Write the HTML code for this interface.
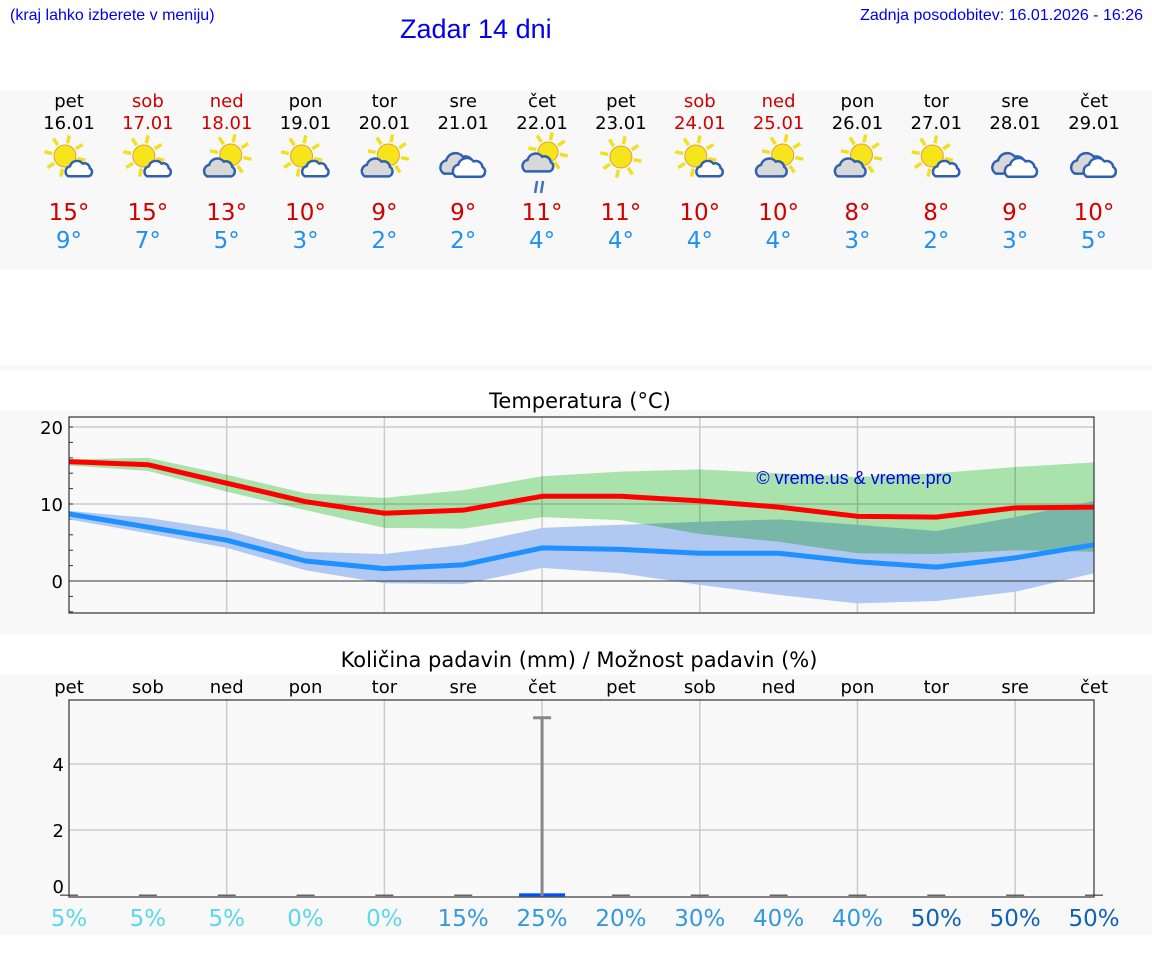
<!DOCTYPE html>
<html><head><meta charset="utf-8">
<style>
body{margin:0;width:1152px;height:975px;background:#fff;position:relative;overflow:hidden;font-family:"DejaVu Sans","Liberation Sans",sans-serif;}
.abs{position:absolute}
</style></head>
<body>
<div class="abs" style="left:10px;top:7px;font:16px 'Liberation Sans',sans-serif;color:#0000ee">(kraj lahko izberete v meniju)</div>
<div class="abs" style="left:400px;top:14px;font:27px 'Liberation Sans',sans-serif;color:#0000ee">Zadar 14 dni</div>
<div class="abs" style="right:9px;top:7px;font:16px 'Liberation Sans',sans-serif;color:#0000ee">Zadnja posodobitev: 16.01.2026 - 16:26</div>
<div class="abs" style="left:0;top:90px;width:1152px;height:180px;background:#f8f8f8"></div>
<div class="abs" style="left:0;top:365px;width:1152px;height:5px;background:#f8f8f8"></div>
<div class="abs" style="left:0;top:410px;width:1152px;height:224px;background:#f8f8f8"></div>
<div class="abs" style="left:0;top:675px;width:1152px;height:260px;background:#f8f8f8"></div>
<svg id="svg" class="abs" style="left:0;top:0" width="1152" height="975"></svg>
<script>
const dayNames=["pet","sob","ned","pon","tor","sre","čet","pet","sob","ned","pon","tor","sre","čet"];
const dates=["16.01","17.01","18.01","19.01","20.01","21.01","22.01","23.01","24.01","25.01","26.01","27.01","28.01","29.01"];
const weekend=[0,1,1,0,0,0,0,0,1,1,0,0,0,0];
const icons=["sc","sc","cs","sc","cs","cc","rain","sun","sc","cs","cs","sc","cc","cc"];
const maxT=[15,15,13,10,9,9,11,11,10,10,8,8,9,10];
const minT=[9,7,5,3,2,2,4,4,4,4,3,2,3,5];
const maxLine=[15.5,15.1,12.7,10.3,8.8,9.2,11,11,10.4,9.6,8.4,8.3,9.5,9.6];
const maxHi=[15.8,16,13.8,11.4,10.8,11.8,13.6,14.2,14.5,14,13.5,14,14.8,15.4];
const maxLo=[15,14.3,11.6,9.2,6.9,6.8,8.3,7.9,6.1,5.1,3.6,3.5,4,3.8];
const minLine=[8.7,7,5.3,2.6,1.6,2.1,4.3,4.1,3.6,3.6,2.5,1.8,3,4.7];
const minHi=[9.1,8.2,6.6,3.8,3.5,4.7,6.9,7.3,7.7,8,7.3,6.5,8.3,10.4];
const minLo=[8,6.2,4.3,1.4,-0.3,-0.4,1.7,1,-0.5,-1.8,-2.9,-2.6,-1.4,1];
const precip=[0,0,0,0,0,0,0.02,0,0,0,0,0,0,0];
const precipErr=[0,0,0,0,0,0,5.4,0,0,0,0,0,0,0];
const chance=[5,5,5,0,0,15,25,20,30,40,40,50,50,50];
const tTicks=[0,10,20];
const pTicks=[0,2,4];

const NS="http://www.w3.org/2000/svg";
const svg=document.getElementById('svg');
function el(tag,attrs,parent,text){const e=document.createElementNS(NS,tag);for(const k in attrs)e.setAttribute(k,attrs[k]);if(text!==undefined)e.textContent=text;(parent||svg).appendChild(e);return e;}
const X0=69,X1=1094;
const xd=i=>X0+i*(X1-X0)/13;
const yT=v=>581-v*7.7;
const yP=v=>896-v*33;

function sun(g,cx,cy,r){
  for(let k=0;k<8;k++){const a=k*Math.PI/4+0.2;el('line',{x1:cx+Math.cos(a)*(r+2),y1:cy+Math.sin(a)*(r+2),x2:cx+Math.cos(a)*(r+10),y2:cy+Math.sin(a)*(r+10),stroke:'#f0e020','stroke-width':3.5},g);}
  el('circle',{cx:cx,cy:cy,r:r,fill:'#f5e51a',stroke:'#e8a030','stroke-width':1},g);
}
function cloud(g,cx,cy,s,fill){
  el('path',{d:`M${cx-12*s},${cy+8*s} a${6*s},${6*s} 0 0 1 ${2*s},${-11*s} a${8*s},${8*s} 0 0 1 ${14*s},${-3*s} a${6*s},${6*s} 0 0 1 ${8*s},${5*s} a${5*s},${5*s} 0 0 1 ${-1*s},${9*s} z`,fill:fill,stroke:'#3060b0','stroke-width':2.5},g);
}
for(let i=0;i<14;i++){
  const x=xd(i);
  const c=weekend[i]?'#d00000':'#000';
  const t1=el('text',{x:x,y:107,'text-anchor':'middle','font-size':18,fill:c},svg,dayNames[i]);
  
  const t2=el('text',{x:x,y:129,'text-anchor':'middle','font-size':18,fill:c},svg,dates[i]);
  
  const g=el('g',{});
  
  const ic=icons[i];
  if(ic==='sc'){sun(g,x-4,156,11);cloud(g,x+10,169,0.9,'#fff');}
  else if(ic==='cs'){sun(g,x+4,155,11);cloud(g,x-7,168,1.05,'#d8d8d8');}
  else if(ic==='sun'){sun(g,x,157,11);}
  else if(ic==='cc'){cloud(g,x-5,164,1.2,'#d8d8d8');cloud(g,x+6,168,1.1,'#fff');}
  else if(ic==='rain'){sun(g,x+6,152,10);cloud(g,x-4,163,1.05,'#d8d8d8');el('line',{x1:x-5,y1:181,x2:x-7,y2:193,stroke:'#4070c0','stroke-width':2.5},g);el('line',{x1:x+1,y1:181,x2:x-1,y2:193,stroke:'#4070c0','stroke-width':2.5},g);}
  const t3=el('text',{x:x,y:220,'text-anchor':'middle','font-size':23,fill:'#d00000'},svg,maxT[i]+'°');
  
  const t4=el('text',{x:x,y:248,'text-anchor':'middle','font-size':23,fill:'#2090f0'},svg,minT[i]+'°');
  
}

// temperature chart
const tt=el('text',{x:580,y:408,'text-anchor':'middle','font-size':21,fill:'#000'},svg,'Temperatura (°C)');

el('rect',{x:X0,y:417,width:X1-X0,height:196,fill:'#f9f9f9'});
for(let i=2;i<13;i+=2){const l=el('line',{x1:xd(i),y1:417,x2:xd(i),y2:613,stroke:'#ccc','stroke-width':1.5});}
tTicks.forEach(v=>{if(v!==0)el('line',{x1:X0,y1:yT(v),x2:X1,y2:yT(v),stroke:'#ccc','stroke-width':1.5});
 const t=el('text',{x:63,y:yT(v)+7,'text-anchor':'end','font-size':18,fill:'#000'},svg,v);});
for(let v=-4;v<=20;v+=2){el('line',{x1:X0,y1:yT(v),x2:X0+4,y2:yT(v),stroke:'#333','stroke-width':1});}
function band(hi,lo,fill,name,blend){let d='';hi.forEach((v,i)=>d+=(i?'L':'M')+xd(i)+','+yT(v));for(let i=lo.length-1;i>=0;i--)d+='L'+xd(i)+','+yT(lo[i]);const p=el('path',{d:d+'Z',fill:fill});if(blend)p.setAttribute('style','mix-blend-mode:multiply');}
function line(vals,col,name){const p=el('polyline',{points:vals.map((v,i)=>xd(i)+','+yT(v)).join(' '),fill:'none',stroke:col,'stroke-width':5,'stroke-linejoin':'round'});}
band(minHi,minLo,'#b0c8f2','min-temp-range',false);
band(maxHi,maxLo,'#aee8b0','max-temp-range',true);
el('line',{x1:X0,y1:yT(0),x2:X1,y2:yT(0),stroke:'#333','stroke-width':1});
line(maxLine,'#ff0000','max-temp-line');
line(minLine,'#1e90ff','min-temp-line');
const wm=el('text',{x:854,y:484,'text-anchor':'middle','font-size':18,'font-family':'Liberation Sans',fill:'#0000ee'},svg,'© vreme.us & vreme.pro');

el('rect',{x:X0,y:417,width:X1-X0,height:196,fill:'none',stroke:'#333','stroke-width':1.2});

// precipitation chart
const pt=el('text',{x:579,y:667,'text-anchor':'middle','font-size':21,fill:'#000'},svg,'Količina padavin (mm) / Možnost padavin (%)');

for(let i=0;i<14;i++){const t=el('text',{x:xd(i),y:693,'text-anchor':'middle','font-size':18,fill:'#000'},svg,dayNames[i]);}
el('rect',{x:X0,y:700,width:X1-X0,height:197,fill:'#f9f9f9'});
for(let i=2;i<13;i+=2)el('line',{x1:xd(i),y1:700,x2:xd(i),y2:897,stroke:'#ccc','stroke-width':1.5});
pTicks.forEach(v=>{if(v!==0)el('line',{x1:X0,y1:yP(v),x2:X1,y2:yP(v),stroke:'#ccc','stroke-width':1.5});
 const t=el('text',{x:64,y:(v===0?yP(v)-3:yP(v)+7),'text-anchor':'end','font-size':18,fill:'#000'},svg,v);});
for(let i=0;i<14;i++){
  const x=xd(i);
  const b=el('rect',{x:x-9,y:yP(precip[i])-1.5,width:18,height:Math.max(1.5,896-yP(precip[i])),fill:'#666'});
  
  if(precip[i]>0){const bb=el('rect',{x:x-23,y:yP(precip[i])-2,width:46,height:3,fill:'#0050ff'});}
  if(precipErr[i]>0){const e=el('g',{});
    el('line',{x1:x,y1:yP(precipErr[i]),x2:x,y2:896,stroke:'#888','stroke-width':3},e);
    el('line',{x1:x-9,y1:yP(precipErr[i]),x2:x+9,y2:yP(precipErr[i]),stroke:'#888','stroke-width':3},e);}
  const col=chance[i]<=5?'#5ad8ea':(chance[i]<50?'#3399dd':'#1060b8');
  const t=el('text',{x:x,y:926,'text-anchor':'middle','font-size':23,fill:col},svg,chance[i]+'%');
  
}
el('rect',{x:X0,y:700,width:X1-X0,height:197,fill:'none',stroke:'#333','stroke-width':1.2});
</script>
</body></html>
